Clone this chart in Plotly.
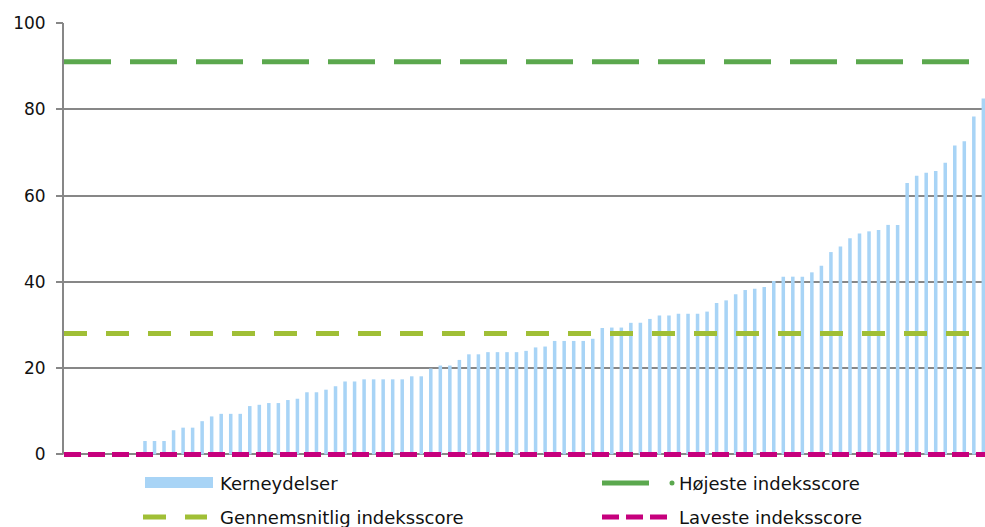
import plotly.graph_objects as go

# ---- data ----
kerneydelser = [
    0, 0, 0, 0, 0, 0, 0, 0,
    3.1, 3.1, 3.1, 5.6, 6.2, 6.2, 7.7, 8.8, 9.4, 9.4, 9.4, 11.2, 11.5, 11.9, 11.9, 12.6, 12.9,
    14.4, 14.4, 15.0, 15.8, 16.9, 16.9, 17.4, 17.4, 17.4, 17.4, 17.4, 18.1, 18.1, 19.9,
    20.6, 20.6, 21.9, 23.2, 23.2, 23.7, 23.7, 23.7, 23.7, 24.0, 24.8, 25.0,
    26.3, 26.3, 26.3, 26.3, 26.8, 29.3, 29.4, 29.4, 30.5, 30.5, 31.4, 32.2, 32.2, 32.6, 32.6,
    32.6, 33.1, 35.1, 35.7, 37.1, 38.1, 38.4, 38.8,
    40.2, 41.2, 41.2, 41.2, 42.2, 43.7, 46.9, 48.2, 50.1, 51.2, 51.7, 52.0, 53.2, 53.2,
    62.9, 64.6, 65.3, 65.7, 67.6, 71.6, 72.6, 78.3, 82.5,
]
categories = list(range(len(kerneydelser)))

hoejeste = 91
gennemsnit = 28
laveste = 0

y_ticks = [0, 20, 40, 60, 80, 100]

labels = {
    "bar": "Kerneydelser",
    "high": "Højeste indeksscore",
    "avg": "Gennemsnitlig indeksscore",
    "low": "Laveste indeksscore",
}

# ---- style ----
BLUE = "#A8D4F6"
GREEN = "#5BA84E"
LIGHTGREEN = "#A0BF36"
MAGENTA = "#C6007D"
GRID = "#878787"
FONT = "DejaVu Sans"

W, H = 985, 527
ML, MR, MT, MB = 64, 0, 23, 67
PW, PH = W - ML - MR, H - MT - MB
Y_LO, Y_HI = -1.3, 100
step = 9.527
n = len(categories)
x_lo = -0.5
x_hi = x_lo + PW / step
line_x = [x_lo, n - 0.5]

fig = go.Figure()
fig.add_trace(go.Bar(x=categories, y=kerneydelser, marker_color=BLUE,
                     marker_line_width=0, showlegend=False))
fig.add_trace(go.Scatter(x=line_x, y=[hoejeste] * 2, mode="lines",
                         line=dict(color=GREEN, width=5, dash="47px,19px"), showlegend=False))
fig.add_trace(go.Scatter(x=line_x, y=[gennemsnit] * 2, mode="lines",
                         line=dict(color=LIGHTGREEN, width=5, dash="23px,19px"), showlegend=False))
fig.add_trace(go.Scatter(x=line_x, y=[laveste] * 2, mode="lines",
                         line=dict(color=MAGENTA, width=5, dash="17px,7px"), showlegend=False))


def px(xp):
    return (xp - ML) / PW


def py(yp):
    return (H - MB - yp) / PH


shapes = []
annotations = []
# y axis line from 0 to top
shapes.append(dict(type="line", xref="paper", yref="paper", x0=-1 / PW, x1=-1 / PW,
                   y0=(0 - Y_LO) / (Y_HI - Y_LO), y1=1, line=dict(color=GRID, width=2),
                   layer="above"))
# legend row 1
shapes.append(dict(type="rect", xref="paper", yref="paper", x0=px(145), x1=px(213),
                   y0=py(488), y1=py(477), fillcolor=BLUE, line_width=0))
shapes.append(dict(type="line", xref="paper", yref="paper", x0=px(602), x1=px(649),
                   y0=py(483), y1=py(483), line=dict(color=GREEN, width=5)))
shapes.append(dict(type="circle", xref="paper", yref="paper", x0=px(669.5), x1=px(674.5),
                   y0=py(485.5), y1=py(480.5), fillcolor=GREEN, line_width=0))
# legend row 2
shapes.append(dict(type="line", xref="paper", yref="paper", x0=px(143), x1=px(207),
                   y0=py(517), y1=py(517), line=dict(color=LIGHTGREEN, width=5, dash="23px,19px")))
shapes.append(dict(type="line", xref="paper", yref="paper", x0=px(602), x1=px(667),
                   y0=py(517), y1=py(517), line=dict(color=MAGENTA, width=5, dash="17px,7px")))

for txt, xp, yp in [(labels["bar"], 218, 483), (labels["high"], 677, 483),
                    (labels["avg"], 218, 517), (labels["low"], 677, 517)]:
    annotations.append(dict(text=txt, xref="paper", yref="paper", x=px(xp), y=py(yp),
                            xanchor="left", yanchor="middle", showarrow=False,
                            font=dict(family=FONT, size=18, color="#111111")))

fig.update_layout(
    width=W, height=H,
    margin=dict(l=ML, r=MR, t=MT, b=MB, pad=0, autoexpand=False),
    paper_bgcolor="white", plot_bgcolor="white",
    bargap=0.63,
    font=dict(family=FONT, size=17, color="#111111"),
    shapes=shapes, annotations=annotations,
    xaxis=dict(range=[x_lo, x_hi], showticklabels=False, ticks="", showgrid=False,
               zeroline=False, showline=False, automargin=False),
    yaxis=dict(range=[Y_LO, Y_HI], tickvals=y_ticks, showgrid=True, gridcolor=GRID,
               gridwidth=1.5, zeroline=True, zerolinecolor=GRID, zerolinewidth=2,
               showline=False, ticks="outside",
               ticklen=7, tickcolor=GRID, tickwidth=2, ticklabelstandoff=7,
               automargin=False),
)

fig.write_html(
    "out.html",
    config={"displayModeBar": False},
    post_script="document.body.style.margin='0';document.body.style.overflow='hidden';",
)
